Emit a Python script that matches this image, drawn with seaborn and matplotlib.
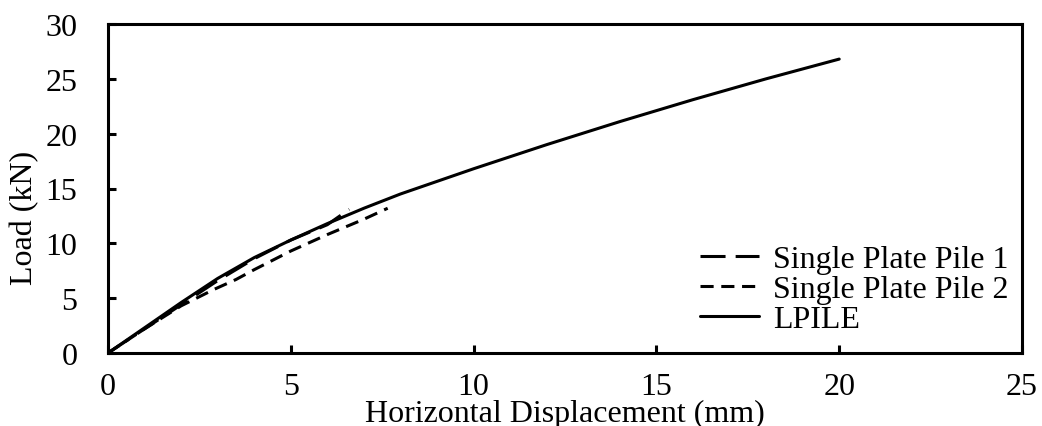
import matplotlib
matplotlib.use("Agg")
import matplotlib.pyplot as plt
import seaborn as sns
import pandas as pd

pile1_x = [0, 1, 2, 3, 4, 5, 5.5, 6.0, 6.3, 6.6]
pile1_y = [0, 2.2, 4.4, 6.6, 8.6, 10.3, 11.0, 11.7, 12.4, 13.1]
pile2_x = [0, 1, 2, 2.9, 3.5, 4, 5, 6, 7, 7.65]
pile2_y = [0, 2.2, 4.3, 5.8, 6.7, 7.6, 9.3, 10.8, 12.2, 13.2]
lpile_x = [0, 1, 2, 3, 4, 5, 6, 7, 8, 10, 12, 14, 16, 18, 20]
lpile_y = [0, 2.3, 4.6, 6.8, 8.7, 10.3, 11.8, 13.2, 14.5, 16.8, 19.0, 21.1, 23.1, 25.0, 26.8]

names = ["Single Plate Pile 1", "Single Plate Pile 2", "LPILE"]
xticks = [0, 5, 10, 15, 20, 25]
yticks = [0, 5, 10, 15, 20, 25, 30]

frames = []
for n, xs, ys in zip(names, [pile1_x, pile2_x, lpile_x], [pile1_y, pile2_y, lpile_y]):
    frames.append(pd.DataFrame({"x": xs, "y": ys, "series": n}))
df = pd.concat(frames, ignore_index=True)

sns.set_style("ticks")
plt.rcParams["font.family"] = ["Liberation Serif", "DejaVu Serif"]
plt.rcParams["text.color"] = "black"
plt.rcParams["axes.labelcolor"] = "black"
plt.rcParams["xtick.color"] = "black"
plt.rcParams["ytick.color"] = "black"

FS = 23

fig = plt.figure(figsize=(10.42, 4.27), dpi=100)
ax = fig.add_axes([108 / 1042, 73 / 427, 914 / 1042, 329 / 427])

sns.lineplot(data=df, x="x", y="y", hue="series", style="series",
             palette={n: "black" for n in names},
             dashes={names[0]: (8.2, 3.3), names[1]: (4.3, 2.5), names[2]: ""},
             hue_order=names, style_order=names,
             sort=False, estimator=None, linewidth=2.2, ax=ax)

ax.set_xlim(0, 25)
ax.set_ylim(0, 30)
ax.set_xticks(xticks)
ax.set_yticks(yticks)
ax.tick_params(direction="in", length=6, width=2.2, labelsize=FS,
               colors="black", labelcolor="black")
ax.tick_params(axis="x", pad=14)
ax.tick_params(axis="y", pad=22)
for s in ax.spines.values():
    s.set_linewidth(2.2)
    s.set_color("black")
    s.set_visible(True)

ax.set_xlabel("Horizontal Displacement (mm)", fontsize=FS, color="black")
ax.set_ylabel("Load (kN)", fontsize=FS, color="black")
ax.xaxis.set_label_coords(0.5, (354 - 422) / 329)
ax.xaxis.label.set_va("baseline")
ax.yaxis.set_label_coords((25 - 108) / 914, (354 - 218) / 329)
ax.yaxis.label.set_va("center")

leg = ax.legend(loc="upper left", bbox_to_anchor=((700 - 108) / 914, (354 - 246) / 329),
                frameon=False, fontsize=FS, handlelength=1.85, handletextpad=0.45,
                labelspacing=0.02, borderpad=0, borderaxespad=0)
for l in leg.get_lines():
    l.set_linewidth(2.2)
for t in leg.get_texts():
    t.set_color("black")

fig.savefig("out.png", dpi=100)
